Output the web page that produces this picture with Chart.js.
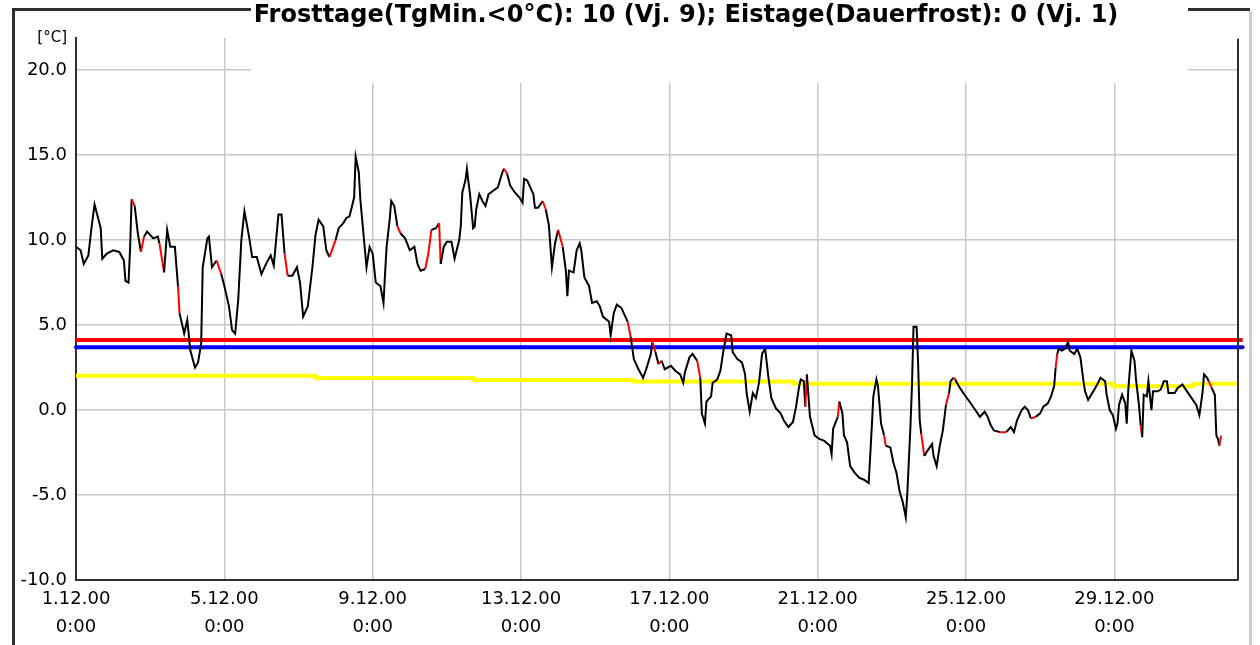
<!DOCTYPE html>
<html>
<head>
<meta charset="utf-8">
<title>Temperatur Dezember 2000</title>
<script src="https://cdn.jsdelivr.net/npm/chart.js@4/dist/chart.umd.min.js"></script>
<style>
  html, body { margin: 0; padding: 0; background: #fff; }
  #box { position: relative; width: 1260px; height: 645px; }
</style>
</head>
<body>
<div id="box"><canvas id="chart_temp"></canvas></div>
<script>
// hours since 1.12.00 0:00 and air temperature in °C
var hours = [
    0, 3, 5, 8, 10, 12, 16, 17, 20, 24,
    28, 31, 32, 34, 35, 36, 38, 40, 42, 44,
    46, 50, 53, 54, 57, 59, 61, 64, 66, 67,
    70, 72, 74, 77, 79, 81, 82, 85, 86, 88,
    91, 94, 96, 99, 101, 103, 105, 107, 109, 112,
    114, 117, 120, 123, 126, 128, 131, 133, 135, 137,
    140, 143, 145, 147, 150, 153, 155, 157, 160, 162,
    164, 168, 170, 173, 175, 177, 180, 181, 183, 184,
    186, 188, 190, 192, 194, 197, 199, 200, 201, 203,
    204, 206, 208, 210, 213, 216, 219, 221, 223, 226,
    228, 230, 233, 235, 236, 238, 240, 243, 245, 248,
    249, 250, 252, 253, 254, 255, 257, 258, 259, 261,
    263, 265, 267, 270, 273, 276, 277, 279, 281, 284,
    287, 289, 290, 292, 294, 296, 297, 299, 302, 304,
    306, 308, 310, 312, 315, 317, 318, 319, 322, 324,
    326, 327, 329, 332, 334, 337, 339, 341, 345, 346,
    348, 350, 353, 357, 359, 361, 364, 367, 369, 372,
    373, 375, 377, 379, 381, 385, 388, 391, 393, 394,
    397, 399, 402, 404, 405, 407, 408, 411, 412, 415,
    417, 419, 421, 424, 425, 428, 431, 433, 434, 436,
    438, 440, 442, 444, 446, 448, 450, 453, 456, 458,
    461, 464, 466, 468, 469, 471, 472, 473, 475, 478,
    481, 484, 488, 489, 490, 493, 494, 496, 497, 499,
    501, 504, 507, 510, 513, 515, 516, 518, 519, 521,
    523, 524, 527, 529, 531, 533, 535, 537, 538, 540,
    541, 542, 544, 545, 546, 547, 549, 551, 554, 555,
    557, 559, 561, 563, 565, 566, 568, 569, 572, 575,
    579, 582, 585, 588, 590, 592, 594, 598, 602, 605,
    607, 609, 612, 614, 616, 618, 621, 624, 626, 629,
    631, 633, 634, 635, 636, 638, 640, 642, 643, 646,
    648, 650, 652, 653, 655, 657, 659, 662, 663, 666,
    667, 669, 671, 673, 674, 675, 677, 679, 680, 681,
    683, 684, 685, 686, 688, 689, 690, 691, 693, 694,
    696, 697, 700, 702, 704, 706, 707, 711, 713, 716,
    719, 722, 725, 727, 729, 730, 732, 733, 735, 737,
    738, 739, 740, 741
];
var temps = [
    9.6, 9.4, 8.6, 9.1, 10.7, 12.1, 10.7, 8.9, 9.2, 9.4,
    9.3, 8.8, 7.6, 7.5, 9.5, 12.4, 12.0, 10.4, 9.3, 10.2,
    10.5, 10.1, 10.2, 9.8, 8.1, 10.6, 9.6, 9.6, 7.3, 5.7,
    4.5, 5.3, 3.5, 2.5, 2.8, 3.9, 8.4, 10.1, 10.2, 8.4,
    8.8, 8.0, 7.3, 6.1, 4.7, 4.5, 6.5, 10.0, 11.7, 10.2,
    9.0, 9.0, 8.0, 8.6, 9.1, 8.5, 11.5, 11.5, 9.2, 7.9,
    7.9, 8.4, 7.5, 5.5, 6.1, 8.4, 10.3, 11.2, 10.8, 9.4,
    9.0, 10.0, 10.7, 11.0, 11.3, 11.4, 12.5, 14.9, 14.0, 12.4,
    10.4, 8.4, 9.6, 9.2, 7.5, 7.3, 6.3, 8.0, 9.6, 11.2,
    12.3, 12.0, 10.8, 10.4, 10.1, 9.4, 9.6, 8.6, 8.2, 8.3,
    9.2, 10.6, 10.7, 11.0, 8.6, 9.6, 9.9, 9.9, 8.9, 10.0,
    10.8, 12.8, 13.5, 14.2, 13.4, 12.7, 10.7, 10.8, 11.8, 12.7,
    12.3, 12.0, 12.7, 12.9, 13.1, 14.0, 14.2, 13.9, 13.2, 12.8,
    12.5, 12.2, 13.6, 13.5, 13.1, 12.7, 11.9, 11.9, 12.3, 11.8,
    10.9, 8.4, 9.8, 10.6, 9.6, 8.2, 6.7, 8.2, 8.1, 9.4,
    9.8, 9.4, 7.8, 7.3, 6.3, 6.4, 6.1, 5.5, 5.2, 4.4,
    5.7, 6.2, 6.0, 5.2, 4.3, 3.0, 2.4, 1.9, 2.4, 3.3,
    4.0, 3.4, 2.7, 2.9, 2.4, 2.6, 2.3, 2.1, 1.6, 2.2,
    3.1, 3.3, 2.9, 1.9, -0.2, -0.8, 0.5, 0.8, 1.6, 1.8,
    2.3, 3.5, 4.5, 4.4, 3.4, 3.0, 2.8, 2.1, 1.0, -0.1,
    1.0, 0.7, 1.6, 3.3, 3.6, 2.0, 0.7, 0.1, -0.2, -0.6,
    -1.0, -0.7, 0.2, 1.4, 1.8, 1.7, 0.2, 2.1, -0.4, -1.5,
    -1.7, -1.8, -2.1, -2.6, -1.1, -0.4, 0.5, -0.2, -1.5, -1.9,
    -3.3, -3.7, -4.0, -4.1, -4.3, -1.0, 0.8, 1.8, 1.4, -0.8,
    -1.5, -2.1, -2.2, -3.1, -3.7, -4.8, -5.4, -6.3, -4.9, -1.0,
    1.4, 4.9, 4.9, 2.7, -0.6, -1.4, -2.7, -2.4, -2.0, -2.7,
    -3.3, -2.1, -1.2, 0.3, 1.0, 1.7, 1.9, 1.8, 1.3, 0.9,
    0.4, 0.0, -0.4, -0.1, -0.4, -0.9, -1.2, -1.3, -1.3, -1.0,
    -1.3, -0.6, 0.0, 0.2, 0.0, -0.5, -0.4, -0.2, 0.2, 0.4,
    0.8, 1.4, 2.5, 3.3, 3.6, 3.5, 3.6, 4.0, 3.5, 3.3,
    3.6, 3.1, 1.7, 1.1, 0.6, 0.9, 1.2, 1.7, 1.9, 1.7,
    0.9, 0.0, -0.3, -1.1, -0.8, 0.3, 0.9, 0.4, -0.8, 1.2,
    3.5, 3.2, 2.9, 1.8, 0.2, -0.9, -1.6, 0.9, 0.8, 1.7,
    0.0, 1.1, 1.1, 1.2, 1.7, 1.7, 1.0, 1.0, 1.3, 1.5,
    1.1, 0.7, 0.3, -0.3, 1.0, 2.1, 1.9, 1.7, 1.3, 0.9,
    -1.5, -1.7, -2.1, -1.5
];
// segments drawn red (start hour of the segment)
var redHours = [36, 42, 54, 66, 91, 135, 164, 208, 226, 228, 235, 277, 302, 312, 357,
    373, 377, 402, 472, 493, 523, 547, 563, 568, 598, 618, 634, 689, 733, 740];

// horizontal reference lines
var levelHours = [0, 755];
var redLevel = [4.12, 4.12];
var blueLevel = [3.69, 3.69];
var yellowHours = [0, 155, 257, 361, 464, 671, 723, 752];
var yellowLevel = [2.02, 1.89, 1.77, 1.68, 1.55, 1.40, 1.55, 1.55];

var xTickLabels = ['1.12.00', '5.12.00', '9.12.00', '13.12.00', '17.12.00', '21.12.00', '25.12.00', '29.12.00'];
var xTickTime = '0:00';
var yTicks = [-10, -5, 0, 5, 10, 15, 20];
var yMin = -10;
var yMax = 21.9;
var xMax = 752;
var titleText = 'Frosttage(TgMin.<0°C): 10 (Vj. 9); Eistage(Dauerfrost): 0 (Vj. 1)';

function toPoints(xs, ys) {
    return xs.map(function (x, i) { return {x: x, y: ys[i]}; });
}

var framePlugin = {
    id: 'frame',
    beforeDraw: function (chart) {
        var c = chart.ctx;
        c.save();
        c.fillStyle = '#fff';
        c.fillRect(0, 0, chart.width, chart.height);
        // group box
        c.strokeStyle = '#2e2e2e';
        c.lineWidth = 3;
        c.beginPath();
        c.moveTo(13.5, 645);
        c.lineTo(13.5, 9.5);
        c.lineTo(251, 9.5);
        c.moveTo(1188, 9.5);
        c.lineTo(1250, 9.5);
        c.stroke();
        c.strokeStyle = '#cfcfcf';
        c.lineWidth = 3;
        c.beginPath();
        c.moveTo(1250.5, 11);
        c.lineTo(1250.5, 645);
        c.stroke();
        c.restore();
    },
    afterLayout: function (chart) {
        // title sits right of centre, like in the original
        var t = chart.titleBlock;
        var w = t.right - t.left;
        t.left = 686 - w / 2;
        t.right = 686 + w / 2;
    },
    afterDraw: function (chart) {
        var c = chart.ctx;
        var a = chart.chartArea;
        c.save();
        // background of the caption hides the grid under it
        c.fillStyle = '#fff';
        c.fillRect(251, 31, 937, 52);
        c.strokeStyle = '#2e2e2e';
        c.lineWidth = 2;
        c.beginPath();
        c.moveTo(a.right, a.top + 1);
        c.lineTo(a.right, a.bottom);
        c.stroke();
        c.restore();
    }
};

var ctx = document.getElementById('chart_temp').getContext('2d');
var chart = new Chart(ctx, {
    type: 'line',
    data: {
        datasets: [{
            label: 'Temperatur',
            data: toPoints(hours, temps),
            borderColor: '#000',
            borderWidth: 2,
            pointRadius: 0,
            tension: 0,
            segment: {
                borderColor: function (s) {
                    return redHours.indexOf(s.p0.parsed.x) >= 0 ? '#ff0000' : undefined;
                }
            }
        }, {
            label: 'rot',
            data: toPoints(levelHours, redLevel),
            borderColor: '#ff0000',
            borderWidth: 4,
            pointRadius: 0,
            clip: false
        }, {
            label: 'blau',
            data: toPoints(levelHours, blueLevel),
            borderColor: '#0000ff',
            borderWidth: 4,
            borderCapStyle: 'round',
            pointRadius: 0,
            clip: false
        }, {
            label: 'gelb',
            data: toPoints(yellowHours, yellowLevel),
            borderColor: '#ffff00',
            borderWidth: 4,
            pointRadius: 0,
            stepped: 'before'
        }]
    },
    options: {
        responsive: true,
        maintainAspectRatio: false,
        animation: false,
        devicePixelRatio: 1,
        layout: {padding: {left: 0, right: 22, top: 0, bottom: 0}},
        plugins: {
            legend: {display: false},
            tooltip: {enabled: false},
            title: {
                display: true,
                text: titleText,
                color: '#000',
                font: {family: 'DejaVu Sans', size: 24, weight: 'bold'},
                padding: {top: 1, bottom: 8}
            }
        },
        scales: {
            x: {
                type: 'linear',
                min: 0,
                max: xMax,
                afterBuildTicks: function (scale) {
                    scale.ticks = xTickLabels.map(function (l, i) { return {value: i * 96}; });
                },
                afterFit: function (scale) { scale.height = 65; },
                ticks: {
                    autoSkip: false,
                    maxRotation: 0,
                    padding: 5,
                    color: '#000',
                    font: {family: 'DejaVu Sans', size: 18, lineHeight: 1.55},
                    callback: function (v, i) { return [xTickLabels[i], xTickTime]; }
                },
                grid: {color: '#c8c8c8', lineWidth: 1.5, drawTicks: false},
                border: {color: '#2e2e2e', width: 2}
            },
            y: {
                min: yMin,
                max: yMax,
                afterBuildTicks: function (scale) {
                    scale.ticks = yTicks.concat([yMax]).map(function (v) { return {value: v}; });
                },
                afterFit: function (scale) { scale.width = 76; },
                ticks: {
                    padding: 9,
                    color: '#000',
                    font: function (c) {
                        return c.tick && c.tick.value === yMax
                            ? {family: 'DejaVu Sans', size: 15}
                            : {family: 'DejaVu Sans', size: 18};
                    },
                    callback: function (v) { return v === yMax ? '[°C]' : v.toFixed(1); }
                },
                grid: {
                    color: function (c) { return c.tick && c.tick.value === yMax ? 'rgba(0,0,0,0)' : '#c8c8c8'; },
                    lineWidth: 1.5,
                    drawTicks: false
                },
                border: {color: '#2e2e2e', width: 2}
            }
        }
    },
    plugins: [framePlugin]
});
</script>
</body>
</html>
